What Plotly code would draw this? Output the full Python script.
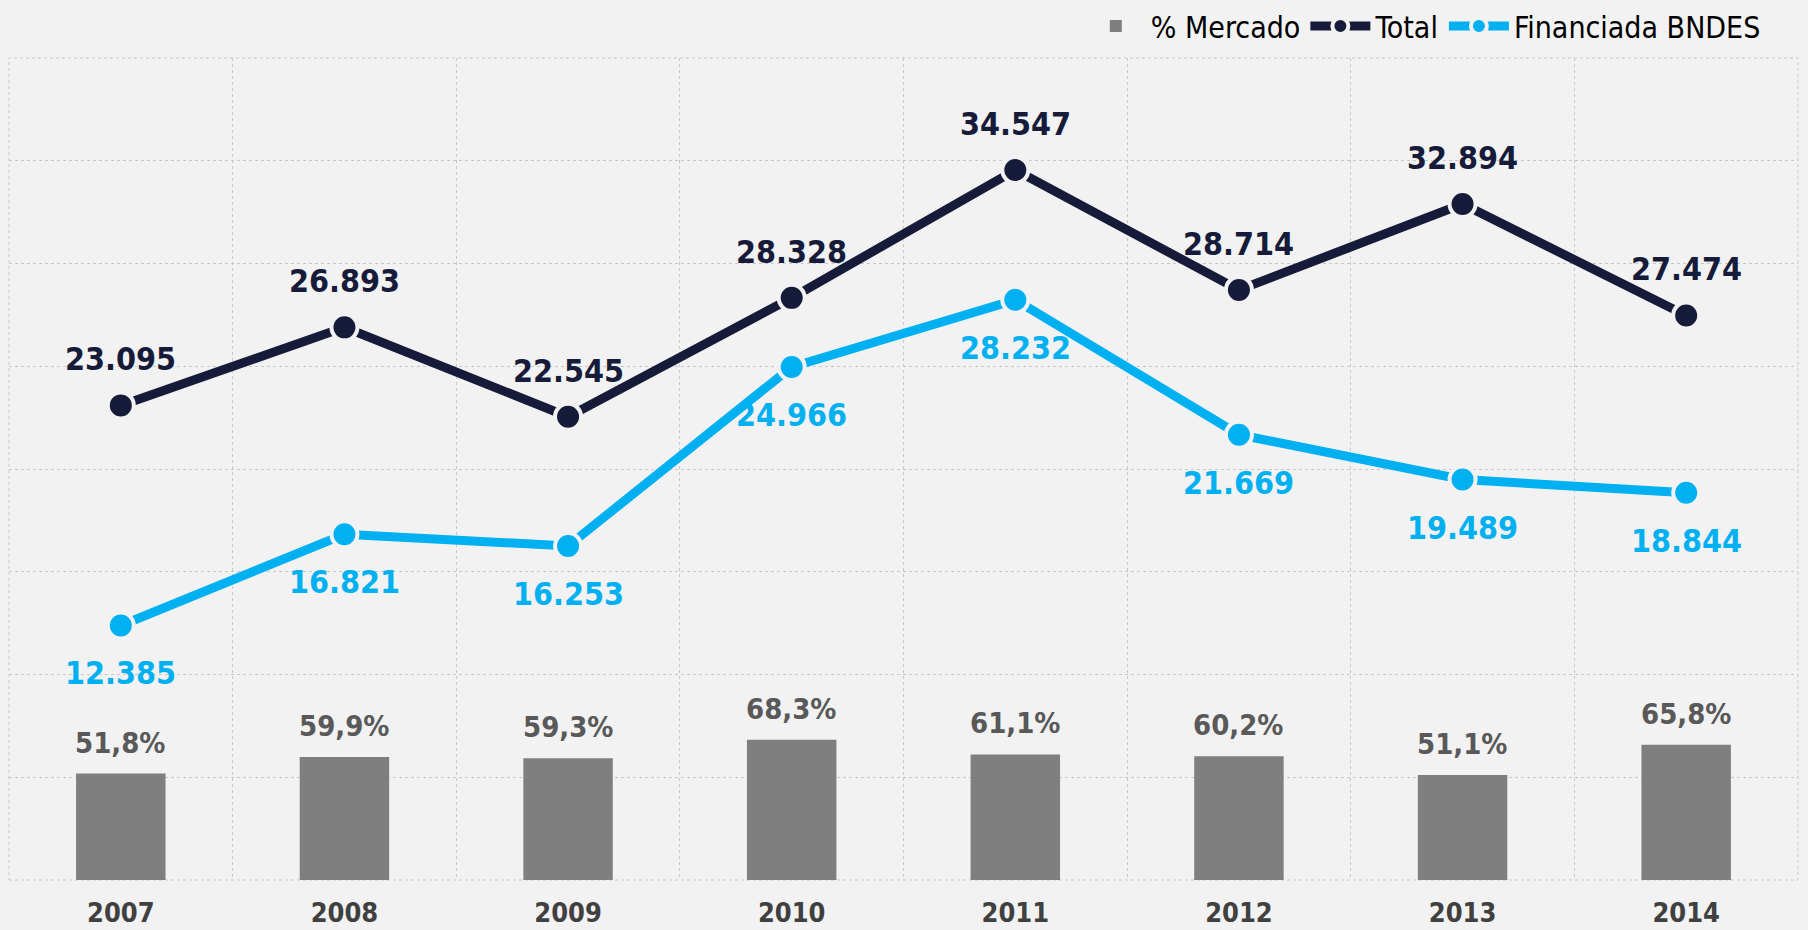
import plotly.graph_objects as go

years = ["2007", "2008", "2009", "2010", "2011", "2012", "2013", "2014"]
total = [23095, 26893, 22545, 28328, 34547, 28714, 32894, 27474]
bndes = [12385, 16821, 16253, 24966, 28232, 21669, 19489, 18844]
mercado = [51.8, 59.9, 59.3, 68.3, 61.1, 60.2, 51.1, 65.8]

BG = "#f2f2f2"
NAVY = "#161b3a"
CYAN = "#00b0f0"
BARC = "#7f7f7f"
LBL_FONT = "DejaVu Sans Condensed"

def fmt_int(v):
    return f"{v:,}".replace(",", ".")

def fmt_pct(v):
    return f"{v:.1f}".replace(".", ",") + "%"

fig = go.Figure()
fig.add_trace(go.Bar(x=years, y=mercado, name="% Mercado", marker=dict(color=BARC, line=dict(width=0)),
                     width=0.4, yaxis="y2", hoverinfo="skip"))
fig.add_trace(go.Scatter(x=years, y=total, name="Total", mode="lines+markers",
                         line=dict(color=NAVY, width=9),
                         marker=dict(size=26, color=NAVY, line=dict(color=BG, width=4))))
fig.add_trace(go.Scatter(x=years, y=bndes, name="Financiada BNDES", mode="lines+markers",
                         line=dict(color=CYAN, width=9),
                         marker=dict(size=26, color=CYAN, line=dict(color=BG, width=4))))

ann = []
for i, v in enumerate(total):
    ann.append(dict(x=i, y=v, xref="x", yref="y", text=fmt_int(v), showarrow=False,
                    yanchor="bottom", yshift=25,
                    font=dict(family=LBL_FONT, size=32, color=NAVY, weight="bold")))
for i, v in enumerate(bndes):
    ann.append(dict(x=i, y=v, xref="x", yref="y", text=fmt_int(v), showarrow=False,
                    yanchor="top", yshift=-27,
                    font=dict(family=LBL_FONT, size=32, color=CYAN, weight="bold")))
for i, v in enumerate(mercado):
    ann.append(dict(x=i, y=v, xref="x", yref="y2", text=fmt_pct(v), showarrow=False,
                    yanchor="bottom", yshift=12,
                    font=dict(family=LBL_FONT, size=29, color="#595959", weight="bold")))

fig.update_layout(
    width=1808, height=930,
    paper_bgcolor=BG, plot_bgcolor=BG,
    margin=dict(l=9, r=10, t=58, b=50, autoexpand=False),
    showlegend=True,
    legend=dict(orientation="h", x=0.982, xanchor="right", yref="container", y=1.0, yanchor="top",
                font=dict(family=LBL_FONT, size=30, color="#000000"),
                bgcolor="rgba(0,0,0,0)", traceorder="normal", itemwidth=60),
    annotations=ann,
    xaxis=dict(type="category", tickson="boundaries", showgrid=True, gridcolor="#c8c8c8",
               griddash="dot", gridwidth=1, ticks="", ticklabelstandoff=14, automargin=False,
               tickfont=dict(family=LBL_FONT, size=27, color="#404040", weight="bold"),
               showline=False, zeroline=False, range=[-0.5, 7.5]),
    yaxis=dict(range=[0, 40000], dtick=5000, showgrid=True, gridcolor="#c8c8c8", griddash="dot",
               gridwidth=1, showticklabels=False, zeroline=False, showline=False, ticks=""),
    yaxis2=dict(range=[0, 400], overlaying="y", side="right", showgrid=False,
                showticklabels=False, zeroline=False, showline=False, ticks=""),
    shapes=[dict(type="rect", xref="paper", yref="paper", x0=0, x1=1, y0=0, y1=1,
                 line=dict(color="#c8c8c8", width=1, dash="dot"), layer="below")],
)

fig.write_html("out.html", config={"displayModeBar": False},
               post_script="document.body.style.margin='0';document.body.style.background='#f2f2f2';")
